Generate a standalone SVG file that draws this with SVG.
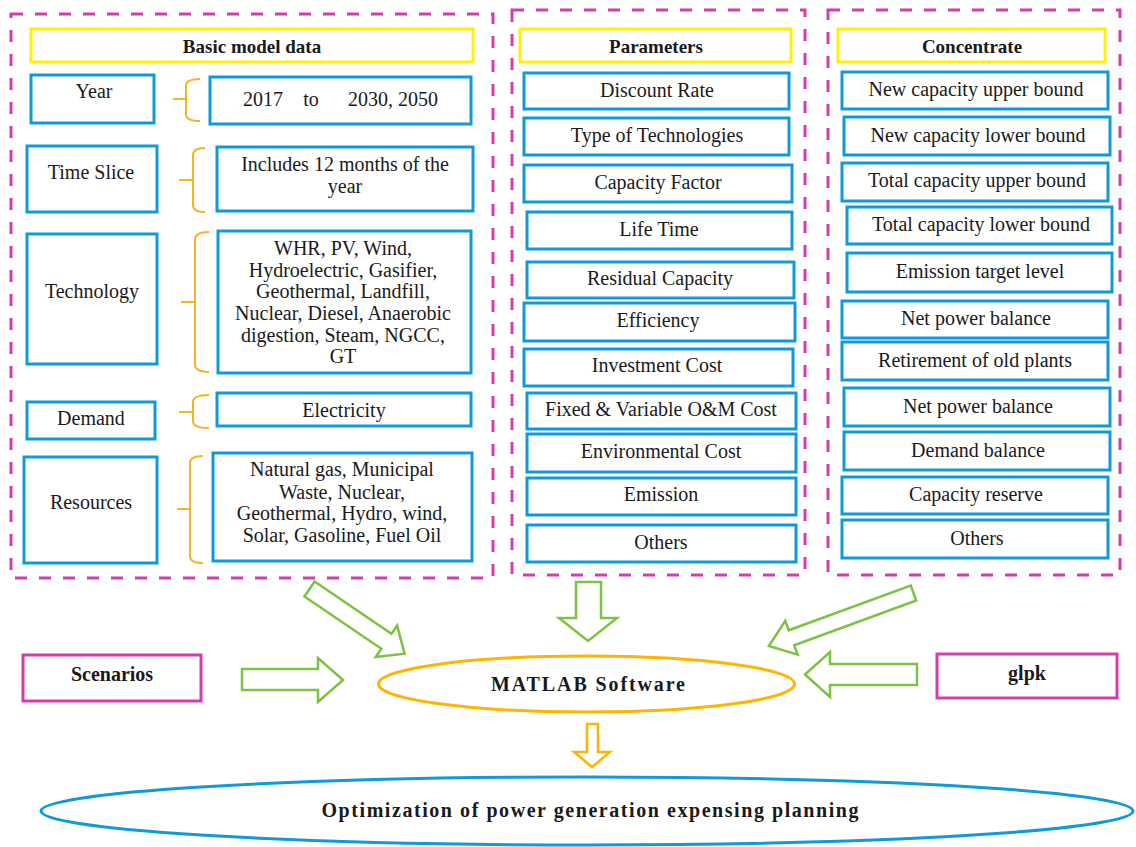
<svg xmlns="http://www.w3.org/2000/svg" width="1136" height="847" viewBox="0 0 1136 847">
<style>
.bg{fill:#ffffff}
.cont{fill:none;stroke:#D43DAB;stroke-width:3;stroke-dasharray:12 12}
.hdr{fill:#ffffff;stroke:#FFF200;stroke-width:3}
.box{fill:#ffffff;stroke:#0F9BD7;stroke-width:3}
.mbox{fill:#ffffff;stroke:#D43DAB;stroke-width:3}
.t{font-family:"Liberation Serif","Times New Roman",serif;font-size:20px;fill:#1a1a1a;text-anchor:middle}
.b{font-family:"Liberation Serif","Times New Roman",serif;font-size:19px;font-weight:bold;fill:#1a1a1a;text-anchor:middle}
.bb{font-family:"Liberation Serif","Times New Roman",serif;font-size:20px;font-weight:bold;fill:#1a1a1a;text-anchor:middle}
.brace{fill:none;stroke:#F6B323;stroke-width:2}
.garrow{fill:#ffffff;stroke:#7DC242;stroke-width:2.5;stroke-linejoin:miter}
.oarrow{fill:#ffffff;stroke:#FFB400;stroke-width:2.5}
.oell{fill:#ffffff;stroke:#FFB400;stroke-width:3}
.bell{fill:#ffffff;stroke:#0F9BD7;stroke-width:3}
</style>
<rect class="bg" x="0" y="0" width="1136" height="847"/>

<g id="containers">
<rect id="basic-container" class="cont" x="11" y="14" width="482" height="564"/>
<rect id="param-container" class="cont" x="512" y="10" width="293" height="565"/>
<rect id="conc-container" class="cont" x="828" y="10" width="292" height="565"/>
</g>

<g id="hdr-basic"><rect class="hdr" x="31" y="29" width="442" height="33"/><text class="b" x="252" y="53">Basic model data</text></g>
<g id="hdr-param"><rect class="hdr" x="520" y="29" width="271" height="33"/><text class="b" x="656" y="53">Parameters</text></g>
<g id="hdr-conc"><rect class="hdr" x="838" y="29" width="267" height="33"/><text class="b" x="972" y="53">Concentrate</text></g>

<!-- Basic model data -->
<g id="year"><rect class="box" x="31" y="75" width="123" height="48"/><text class="t" x="94" y="98">Year</text></g>
<g id="year-val"><rect class="box" x="210" y="77" width="261" height="47"/><text class="t" y="106"><tspan x="263">2017</tspan><tspan x="311">to</tspan><tspan x="393">2030, 2050</tspan></text></g>
<g id="timeslice"><rect class="box" x="27" y="146" width="130" height="66"/><text class="t" x="91" y="179">Time Slice</text></g>
<g id="timeslice-val"><rect class="box" x="217" y="147" width="256" height="64"/><text class="t" x="345" y="171">Includes 12 months of the</text><text class="t" x="345" y="193">year</text></g>
<g id="technology"><rect class="box" x="27" y="234" width="130" height="130"/><text class="t" x="92" y="298">Technology</text></g>
<g id="technology-val"><rect class="box" x="218" y="231" width="253" height="142"/>
<text class="t" x="343" y="255">WHR, PV, Wind,</text>
<text class="t" x="343" y="277">Hydroelectric, Gasifier,</text>
<text class="t" x="343" y="298">Geothermal, Landfill,</text>
<text class="t" x="343" y="320">Nuclear, Diesel, Anaerobic</text>
<text class="t" x="343" y="342">digestion, Steam, NGCC,</text>
<text class="t" x="343" y="363">GT</text></g>
<g id="demand"><rect class="box" x="27" y="402" width="128" height="37"/><text class="t" x="91" y="425">Demand</text></g>
<g id="demand-val"><rect class="box" x="217" y="393" width="254" height="33"/><text class="t" x="344" y="417">Electricity</text></g>
<g id="resources"><rect class="box" x="24" y="457" width="133" height="106"/><text class="t" x="91" y="509">Resources</text></g>
<g id="resources-val"><rect class="box" x="213" y="453" width="259" height="108"/>
<text class="t" x="342" y="476">Natural gas, Municipal</text>
<text class="t" x="342" y="499">Waste, Nuclear,</text>
<text class="t" x="342" y="520">Geothermal, Hydro, wind,</text>
<text class="t" x="342" y="542">Solar, Gasoline, Fuel Oil</text></g>

<!-- Parameters -->
<g id="p-discount"><rect class="box" x="524" y="73" width="265" height="36"/><text class="t" x="657" y="97">Discount Rate</text></g>
<g id="p-type"><rect class="box" x="524" y="118" width="265" height="37"/><text class="t" x="657" y="142">Type of Technologies</text></g>
<g id="p-capfactor"><rect class="box" x="524" y="165" width="268" height="37"/><text class="t" x="658" y="189">Capacity Factor</text></g>
<g id="p-life"><rect class="box" x="527" y="212" width="265" height="37"/><text class="t" x="659" y="236">Life Time</text></g>
<g id="p-residual"><rect class="box" x="527" y="262" width="267" height="36"/><text class="t" x="660" y="285">Residual Capacity</text></g>
<g id="p-eff"><rect class="box" x="524" y="303" width="271" height="38"/><text class="t" x="658" y="327">Efficiency</text></g>
<g id="p-invest"><rect class="box" x="524" y="349" width="269" height="37"/><text class="t" x="657" y="372">Investment Cost</text></g>
<g id="p-om"><rect class="box" x="527" y="393" width="269" height="36"/><text class="t" x="661" y="416">Fixed &amp; Variable O&amp;M Cost</text></g>
<g id="p-env"><rect class="box" x="527" y="434" width="269" height="38"/><text class="t" x="661" y="458">Environmental Cost</text></g>
<g id="p-emission"><rect class="box" x="527" y="478" width="269" height="37"/><text class="t" x="661" y="501">Emission</text></g>
<g id="p-others"><rect class="box" x="527" y="525" width="269" height="37"/><text class="t" x="661" y="549">Others</text></g>

<!-- Concentrate -->
<g id="c-newup"><rect class="box" x="842" y="72" width="266" height="37"/><text class="t" x="976" y="96">New capacity upper bound</text></g>
<g id="c-newlow"><rect class="box" x="844" y="117" width="266" height="38"/><text class="t" x="978" y="142">New capacity lower bound</text></g>
<g id="c-totup"><rect class="box" x="842" y="163" width="266" height="38"/><text class="t" x="977" y="187">Total capacity upper bound</text></g>
<g id="c-totlow"><rect class="box" x="847" y="207" width="265" height="37"/><text class="t" x="981" y="231">Total capacity lower bound</text></g>
<g id="c-emission"><rect class="box" x="847" y="253" width="265" height="39"/><text class="t" x="980" y="278">Emission target level</text></g>
<g id="c-net1"><rect class="box" x="842" y="301" width="266" height="37"/><text class="t" x="976" y="325">Net power balance</text></g>
<g id="c-retire"><rect class="box" x="842" y="342" width="266" height="38"/><text class="t" x="975" y="367">Retirement of old plants</text></g>
<g id="c-net2"><rect class="box" x="844" y="388" width="266" height="38"/><text class="t" x="978" y="413">Net power balance</text></g>
<g id="c-demand"><rect class="box" x="844" y="432" width="266" height="38"/><text class="t" x="978" y="457">Demand balance</text></g>
<g id="c-reserve"><rect class="box" x="842" y="477" width="266" height="37"/><text class="t" x="976" y="501">Capacity reserve</text></g>
<g id="c-others"><rect class="box" x="842" y="520" width="266" height="38"/><text class="t" x="977" y="545">Others</text></g>

<!-- Bottom nodes -->
<g id="scenarios"><rect class="mbox" x="23" y="655" width="178" height="46"/><text class="bb" x="112" y="681">Scenarios</text></g>
<g id="glpk"><rect class="mbox" x="937" y="654" width="180" height="44"/><text class="bb" x="1027" y="680">glpk</text></g>
<g id="matlab"><ellipse class="oell" cx="586.5" cy="684" rx="208" ry="28"/><text class="bb" x="588" y="691" textLength="194" lengthAdjust="spacing">MATLAB Software</text></g>
<g id="optimization"><ellipse class="bell" cx="587" cy="811" rx="546" ry="34"/><text class="bb" x="590" y="817" textLength="537" lengthAdjust="spacing">Optimization of power generation expensing planning</text></g>

<g id="connectors">
<path class="brace" d="M200,79 Q186,79 186,86 L186,114 Q186,121 200,121 M186,99 L173,99"/>
<path class="brace" d="M205,148 Q193,148 193,155 L193,205 Q193,212 205,212 M193,180 L179,180"/>
<path class="brace" d="M209,232 Q195,232 195,240 L195,364 Q195,372 209,372 M195,302 L181,302"/>
<path class="brace" d="M209,395 Q193,395 193,402 L193,421 Q193,428 209,428 M193,412 L179,412"/>
<path class="brace" d="M203,456 Q190,456 190,463 L190,556 Q190,563 203,563 M190,509 L177,509"/>

<polygon class="garrow" transform="translate(309.5,589) rotate(34.2)" points="0,-9 93,-9 93,-19 115,0 93,19 93,9 0,9"/>
<polygon class="garrow" points="576,582 601,582 601,618 617,618 588,641 559,618 576,618"/>
<polygon class="garrow" transform="translate(913.5,593) rotate(159.85)" points="0,-8 130,-8 130,-18 154,0 130,18 130,8 0,8"/>
<polygon class="garrow" points="242,669 318,669 318,658 343,680 318,702 318,690 242,690"/>
<polygon class="garrow" points="917,664 830,664 830,652 805,674.5 830,697 830,685 917,685"/>
<polygon class="oarrow" points="587,724 598,724 598,752 610,752 592,767 574,752 587,752"/>
</g>
</svg>
